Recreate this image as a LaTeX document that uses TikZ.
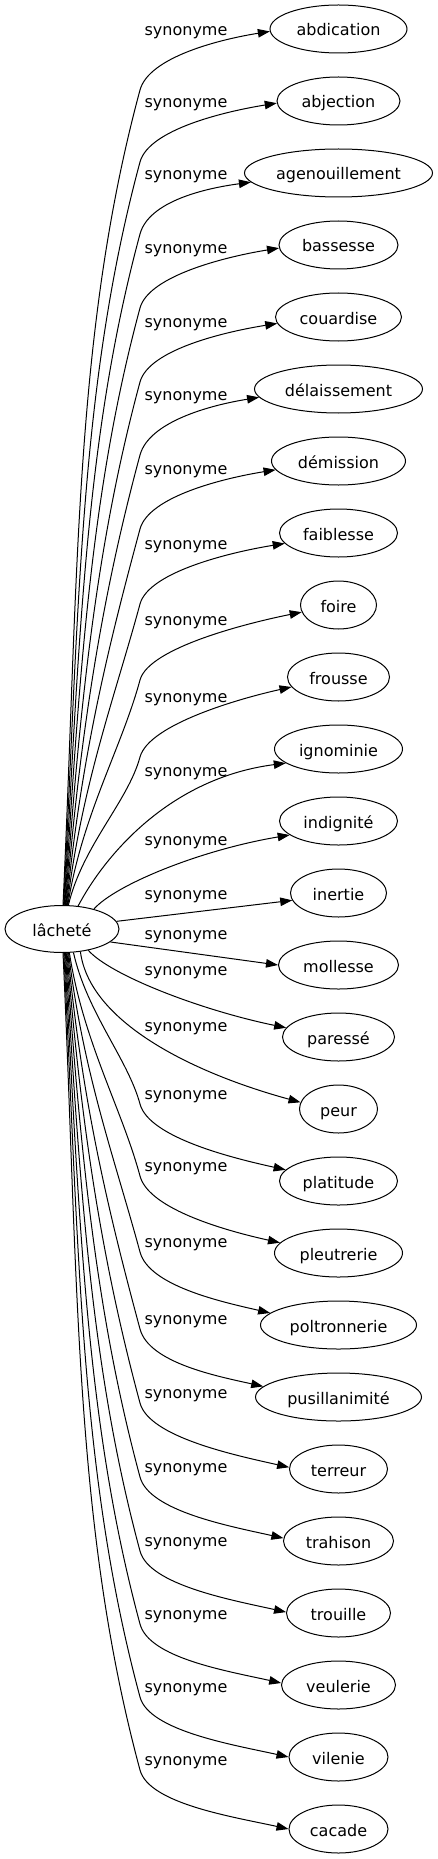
\documentclass[tikz,border=0pt]{standalone}
\usepackage{fontspec}
\setmainfont{DejaVu Sans}
\usetikzlibrary{arrows.meta,shapes.geometric}
\begin{document}
\begin{tikzpicture}[x=1pt,y=-1pt,
  term/.style={ellipse, draw, line width=1pt, minimum height=48pt, inner xsep=0pt, inner ysep=2pt,
    text height=14pt, text depth=0pt, font=\fontsize{16}{19}\selectfont},
  lab/.style={font=\fontsize{16}{19}\selectfont, inner sep=0pt},
  syn/.style={line width=1pt, -{Triangle[length=12pt,width=8.5pt]}}]
\useasboundingbox (0,0) rectangle (438,1859);
% source
\node[term, minimum width=114pt, minimum height=47pt] (src) at (62,929) {lâcheté};
% targets
\node[term, minimum width=137pt] (t0) at (338.5,29) {abdication};
\node[term, minimum width=123pt] (t1) at (338.5,101) {abjection};
\node[term, minimum width=188pt] (t2) at (338.5,173) {agenouillement};
\node[term, minimum width=119pt] (t3) at (338.5,245) {bassesse};
\node[term, minimum width=126pt] (t4) at (338.5,317) {couardise};
\node[term, minimum width=168pt] (t5) at (338.5,389) {délaissement};
\node[term, minimum width=134pt] (t6) at (338.5,461) {démission};
\node[term, minimum width=118pt] (t7) at (338.5,533) {faiblesse};
\node[term, minimum width=76pt] (t8) at (338.5,605) {foire};
\node[term, minimum width=102pt] (t9) at (338.5,677) {frousse};
\node[term, minimum width=128pt] (t10) at (338.5,749) {ignominie};
\node[term, minimum width=118pt] (t11) at (338.5,821) {indignité};
\node[term, minimum width=96pt] (t12) at (338.5,893) {inertie};
\node[term, minimum width=120pt] (t13) at (338.5,965) {mollesse};
\node[term, minimum width=112pt] (t14) at (338.5,1037) {paressé};
\node[term, minimum width=78pt] (t15) at (338.5,1109) {peur};
\node[term, minimum width=118pt] (t16) at (338.5,1181) {platitude};
\node[term, minimum width=128pt] (t17) at (338.5,1253) {pleutrerie};
\node[term, minimum width=156pt] (t18) at (338.5,1325) {poltronnerie};
\node[term, minimum width=166pt] (t19) at (338.5,1397) {pusillanimité};
\node[term, minimum width=98pt] (t20) at (338.5,1469) {terreur};
\node[term, minimum width=110pt] (t21) at (338.5,1541) {trahison};
\node[term, minimum width=104pt] (t22) at (338.5,1613) {trouille};
\node[term, minimum width=114pt] (t23) at (338.5,1685) {veulerie};
\node[term, minimum width=99pt] (t24) at (338.5,1757) {vilenie};
\node[term, minimum width=99pt] (t25) at (338.5,1829) {cacade};
% labels
\node[lab] (l0) at (186,33) {synonyme};
\node[lab] (l1) at (186,105) {synonyme};
\node[lab] (l2) at (186,177) {synonyme};
\node[lab] (l3) at (186,251) {synonyme};
\node[lab] (l4) at (186,325) {synonyme};
\node[lab] (l5) at (186,398) {synonyme};
\node[lab] (l6) at (186,472) {synonyme};
\node[lab] (l7) at (186,547) {synonyme};
\node[lab] (l8) at (186,623) {synonyme};
\node[lab] (l9) at (186,700) {synonyme};
\node[lab] (l10) at (186,774) {synonyme};
\node[lab] (l11) at (186,843) {synonyme};
\node[lab] (l12) at (186,897) {synonyme};
\node[lab] (l13) at (186,937) {synonyme};
\node[lab] (l14) at (186,973) {synonyme};
\node[lab] (l15) at (186,1029) {synonyme};
\node[lab] (l16) at (186,1097) {synonyme};
\node[lab] (l17) at (186,1169) {synonyme};
\node[lab] (l18) at (186,1245) {synonyme};
\node[lab] (l19) at (186,1322) {synonyme};
\node[lab] (l20) at (186,1396) {synonyme};
\node[lab] (l21) at (186,1470) {synonyme};
\node[lab] (l22) at (186,1544) {synonyme};
\node[lab] (l23) at (186,1617) {synonyme};
\node[lab] (l24) at (186,1690) {synonyme};
\node[lab] (l25) at (186,1763) {synonyme};
% upper edges
\draw[syn] ([xshift=1pt]src.north) .. controls +(15.4,-326.4) and +(-66.1,244.8) .. (140,90) .. controls +(9,-33) and +(-50,8) .. (t0.182);
\draw[syn] ([xshift=1.6pt]src.north) .. controls +(15.3,-297.6) and +(-60.3,223.2) .. (140,162) .. controls +(9,-33) and +(-50,8) .. (t1.182);
\draw[syn] ([xshift=2.2pt]src.north) .. controls +(15.2,-268.8) and +(-54.4,201.6) .. (140,234) .. controls +(9,-33) and +(-45,6) .. (t2.186);
\draw[syn] ([xshift=2.8pt]src.north) .. controls +(15,-239.2) and +(-48.4,179.4) .. (140,308) .. controls +(9,-33) and +(-50,8) .. (t3.183);
\draw[syn] ([xshift=3.4pt]src.north) .. controls +(14.9,-209.6) and +(-42.4,157.2) .. (140,382) .. controls +(9,-33) and +(-50,8) .. (t4.186);
\draw[syn] ([xshift=4pt]src.north) .. controls +(14.8,-180.4) and +(-36.5,135.3) .. (140,455) .. controls +(9,-33) and +(-50,8) .. (t5.186);
\draw[syn] ([xshift=4.6pt]src.north) .. controls +(14.7,-150.8) and +(-30.5,113.1) .. (140,529) .. controls +(9,-33) and +(-50,8) .. (t6.188);
\draw[syn] ([xshift=5.2pt]src.north) .. controls +(14.6,-120.8) and +(-24.5,90.6) .. (140,604) .. controls +(9,-33) and +(-50,8) .. (t7.191);
\draw[syn] ([xshift=5.8pt]src.north) .. controls +(14.4,-90.4) and +(-18.3,67.8) .. (140,680) .. controls +(9,-33) and +(-50,10) .. (t8.191);
\draw[syn] ([xshift=6.4pt]src.north) .. controls +(14.3,-59.6) and +(-12.1,44.7) .. (140,757) .. controls +(9,-33) and +(-50,11) .. (t9.192);
\draw[syn] (src.55) .. controls (105,855) and (170,778) .. (t10.195);
\draw[syn] (src.32) .. controls (115,885) and (200,850) .. (t11.196);
\draw[syn] (src.8) -- (t12.189);
\draw[syn] (src.-15) -- (t13.west);
\draw[syn] (src.-39) .. controls (110,975) and (200,1010) .. (t14.170);
\draw[syn] (src.-51) .. controls (90,1025) and (200,1075) .. (t15.170);
% lower edges
\draw[syn] (src.-64) .. controls +(13.4,60) and +(-12.2,-45) .. (140,1104) .. controls +(9,34) and +(-50,-11) .. (t16.168);
\draw[syn] ([xshift=7.4pt]src.south) .. controls +(14.1,89.6) and +(-18.1,-67.2) .. (140,1176) .. controls +(9,34) and +(-50,-11) .. (t17.170);
\draw[syn] ([xshift=6.6pt]src.south) .. controls +(14.3,120) and +(-24.3,-90) .. (140,1252) .. controls +(9,34) and +(-48,-11) .. (t18.170);
\draw[syn] ([xshift=5.8pt]src.south) .. controls +(14.4,150.8) and +(-30.5,-113.1) .. (140,1329) .. controls +(9,34) and +(-45,-10) .. (t19.172);
\draw[syn] ([xshift=5pt]src.south) .. controls +(14.6,180.4) and +(-36.5,-135.3) .. (140,1403) .. controls +(9,34) and +(-54,-12) .. (t20.178);
\draw[syn] ([xshift=4.2pt]src.south) .. controls +(14.8,210) and +(-42.5,-157.5) .. (140,1477) .. controls +(9,34) and +(-54,-12) .. (t21.177);
\draw[syn] ([xshift=3.4pt]src.south) .. controls +(14.9,239.6) and +(-48.5,-179.7) .. (140,1551) .. controls +(9,34) and +(-54,-12) .. (t22.179);
\draw[syn] ([xshift=2.6pt]src.south) .. controls +(15.1,268.8) and +(-54.4,-201.6) .. (140,1624) .. controls +(9,34) and +(-54,-12) .. (t23.178);
\draw[syn] ([xshift=1.8pt]src.south) .. controls +(15.2,298) and +(-60.3,-223.5) .. (140,1697) .. controls +(9,34) and +(-54,-12) .. (t24.west);
\draw[syn] ([xshift=1pt]src.south) .. controls +(15.4,327.2) and +(-66.3,-245.4) .. (140,1770) .. controls +(9,34) and +(-54,-12) .. (t25.west);
\end{tikzpicture}
\end{document}
